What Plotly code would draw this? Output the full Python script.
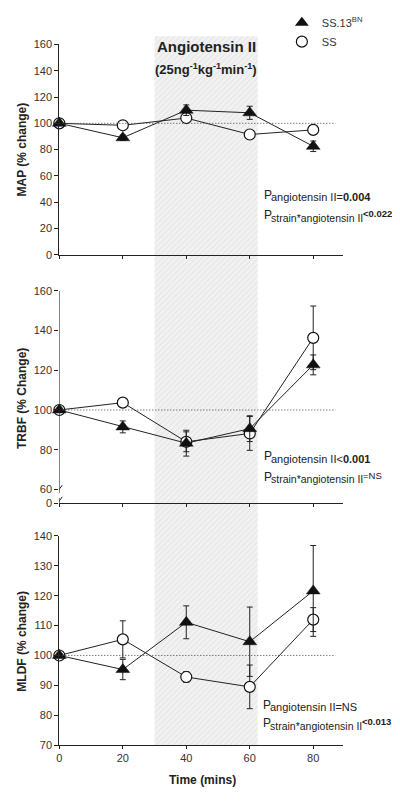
import plotly.graph_objects as go

# ---------------- data ----------------
time = [0, 20, 40, 60, 80]

map_bn = [100, 89, 110, 108, 82.5]
map_bn_err = [0, 2, 4, 5, 4]
map_ss = [100, 98.5, 104, 91.5, 95]
map_ss_err = [0, 1, 3, 2, 1.5]

trbf_bn = [100, 91.5, 83.3, 90.6, 122.7]
trbf_bn_err = [0, 3, 6.5, 6.5, 5]
trbf_ss = [100, 103.7, 84, 88.2, 136.3]
trbf_ss_err = [0, 1, 5, 8.5, 16]

mldf_bn = [100, 95.3, 111.1, 104.6, 121.6]
mldf_bn_err = [0, 3.4, 5.5, 11.6, 15.2]
mldf_ss = [100, 105.4, 92.8, 89.5, 112]
mldf_ss_err = [0, 6.2, 1.8, 7.3, 4]

infusion_start = 30
infusion_end = 62.5
baseline = 100

map_ticks = [0, 20, 40, 60, 80, 100, 120, 140, 160]
trbf_ticks = [53.1, 60, 80, 100, 120, 140, 160]
trbf_ticktext = ["0", "60", "80", "100", "120", "140", "160"]
mldf_ticks = [70, 80, 90, 100, 110, 120, 130, 140]
x_ticks = [0, 20, 40, 60, 80]

# ---------------- geometry helpers (window pixels -> paper) ----------------
# the page body has an 8px margin, so the figure is offset by 8px;
# keep the figure small enough that the page does not overflow the window
OFF = 8
W, H = 400 - 2 * OFF, 806 - 2 * OFF
def px(x):
    return (x - OFF) / W
def py(y):
    return 1 - (y - OFF) / H

FONT = "Liberation Sans, Arial, sans-serif"
AX = "#222222"
TXT = "#333333"

x_dom = [px(56.7), px(343)]
x_range = [0, 89.5]

fig = go.Figure()

# shading (full-height overlay axis drawn beneath the panels)
fig.add_trace(go.Bar(
    x=[(infusion_start + infusion_end) / 2], y=[py(28.5) - py(750.3)],
    base=[py(750.3)], width=[infusion_end - infusion_start],
    marker=dict(color="#f2f2f2", line=dict(width=0),
                pattern=dict(shape="/", fgcolor="#d2d2d2", bgcolor="#f2f2f2",
                             size=4, solidity=0.25)),
    xaxis="x", yaxis="y", showlegend=False, hoverinfo="skip"))

def add_pair(xa, ya, bn, bn_err, ss, ss_err):
    fig.add_trace(go.Scatter(
        x=time, y=ss, mode="lines+markers", xaxis=xa, yaxis=ya,
        line=dict(color="#222222", width=1),
        marker=dict(symbol="circle", size=11, color="white",
                    line=dict(color="#111111", width=1.2)),
        error_y=dict(type="data", array=ss_err, color="#222222",
                     thickness=1, width=3),
        cliponaxis=False, showlegend=False))
    fig.add_trace(go.Scatter(
        x=time, y=bn, mode="lines+markers", xaxis=xa, yaxis=ya,
        line=dict(color="#222222", width=1),
        marker=dict(symbol="triangle-up", size=12, color="#111111",
                    line=dict(color="#111111", width=0.5)),
        error_y=dict(type="data", array=bn_err, color="#222222",
                     thickness=1, width=3),
        cliponaxis=False, showlegend=False))

add_pair("x2", "y2", map_bn, map_bn_err, map_ss, map_ss_err)
add_pair("x3", "y3", trbf_bn, trbf_bn_err, trbf_ss, trbf_ss_err)
add_pair("x4", "y4", mldf_bn, mldf_bn_err, mldf_ss, mldf_ss_err)

# legend-only traces
fig.add_trace(go.Scatter(x=[None], y=[None], mode="markers", xaxis="x2", yaxis="y2",
                         name="SS.13<sup>BN</sup>",
                         marker=dict(symbol="triangle-up", size=12, color="#111111")))
fig.add_trace(go.Scatter(x=[None], y=[None], mode="markers", xaxis="x2", yaxis="y2",
                         name="SS",
                         marker=dict(symbol="circle", size=11, color="white",
                                     line=dict(color="#111111", width=1.2))))

tickfont = dict(family=FONT, size=11, color=TXT)

def xaxis(domain_anchor, labels):
    return dict(domain=x_dom, range=x_range, anchor=domain_anchor,
                showline=True, linecolor=AX, linewidth=1,
                ticks="outside", ticklen=3, tickcolor=AX, tickvals=x_ticks,
                showticklabels=labels, tickfont=tickfont,
                showgrid=False, zeroline=False, fixedrange=True)

def yaxis(domain, rng, tickvals, anchor, showline=True, ticktext=None):
    d = dict(domain=domain, range=rng, anchor=anchor,
             showline=showline, linecolor=AX, linewidth=1,
             ticks="outside", ticklen=4, tickcolor=AX, tickvals=tickvals,
             tickfont=tickfont, showgrid=False, zeroline=False, fixedrange=True)
    if ticktext is not None:
        d["ticktext"] = ticktext
    return d

layout = dict(
    width=W, height=H,
    margin=dict(l=0, r=0, t=0, b=0),
    paper_bgcolor="white", plot_bgcolor="rgba(0,0,0,0)",
    font=dict(family=FONT, color=TXT),
    barmode="overlay",
    xaxis=dict(domain=x_dom, range=x_range, visible=False, fixedrange=True),
    yaxis=dict(domain=[0, 1], range=[0, 1], visible=False, fixedrange=True),
    xaxis2=xaxis("y2", False),
    yaxis2=yaxis([py(251), py(37)], [0, 160], map_ticks, "x2"),
    xaxis3=xaxis("y3", False),
    yaxis3=yaxis([py(504), py(287.7)], [53.1, 160], trbf_ticks, "x3",
                 showline=False, ticktext=trbf_ticktext),
    xaxis4=xaxis("y4", True),
    yaxis4=yaxis([py(750.3), py(537.3)], [70, 140], mldf_ticks, "x4"),
    showlegend=True,
    legend=dict(x=px(281), y=py(0), xanchor="left", yanchor="top",
                font=dict(family=FONT, size=11, color=TXT),
                bgcolor="rgba(0,0,0,0)", tracegroupgap=0, itemwidth=30),
)
fig.update_layout(**layout)

# dotted baseline reference lines
for xa, ya in [("x2", "y2"), ("x3", "y3"), ("x4", "y4")]:
    fig.add_shape(type="line", xref=xa, yref=ya, x0=0, x1=87, y0=baseline, y1=baseline,
                  line=dict(color="#444444", width=1, dash="1px,2px"))

# broken y axis of TRBF panel
fig.add_shape(type="line", xref="x3", yref="y3", x0=0, x1=0, y0=58.3, y1=160,
              line=dict(color=AX, width=1))
fig.add_shape(type="line", xref="x3", yref="y3", x0=0, x1=0, y0=53.1, y1=55.8,
              line=dict(color=AX, width=1))
for yv in [60.2, 54.3]:
    fig.add_shape(type="line", xref="x3", yref="y3", xsizemode="pixel", ysizemode="pixel",
                  xanchor=0, yanchor=yv, x0=-3, x1=3, y0=-4, y1=4,
                  line=dict(color=AX, width=1))

ann = []
def text(x, y, s, size=11, bold=False, xanchor="left", angle=0):
    ann.append(dict(x=px(x), y=py(y), xref="paper", yref="paper", showarrow=False,
                    xanchor=xanchor, yanchor="middle", textangle=angle,
                    text=("<b>%s</b>" % s) if bold else s,
                    font=dict(family=FONT, size=size, color="#222222")))

# title over infusion period
text(205, 39, "Angiotensin II", size=15, bold=True, xanchor="center")
text(205, 62, "(25ng<sup>-1</sup>kg<sup>-1</sup>min<sup>-1</sup>)", size=13, bold=True, xanchor="center")

# y axis titles
text(19, 144, "MAP (% change)", size=12, bold=True, xanchor="center", angle=-90)
text(19, 397, "TRBF (% Change)", size=12, bold=True, xanchor="center", angle=-90)
text(19, 644, "MLDF (% change)", size=12, bold=True, xanchor="center", angle=-90)
# x axis title
text(201, 786, "Time (mins)", size=12, bold=True, xanchor="center")

# statistics
def pstat(x, y, sub, tail, tail_raised):
    text(x, y, "P", size=12)
    if tail_raised:
        text(x + 7, y + 2.5, sub, size=10.5)
        text(x + 7 + 93, y - 1.5, tail, size=9.5)
    else:
        text(x + 7, y + 2.5, sub + tail, size=11)

pstat(261, 190, "angiotensin II", "=<b>0.004</b>", False)
pstat(261, 211, "strain*angiotensin II", "<b>&lt;0.022</b>", True)
pstat(261, 456, "angiotensin II", "&lt;<b>0.001</b>", False)
pstat(261, 477, "strain*angiotensin II", "=NS", True)
pstat(260, 709, "angiotensin II", "=NS", False)
pstat(260, 728, "strain*angiotensin II", "<b>&lt;0.013</b>", True)

fig.update_layout(annotations=ann)

fig.write_html("out.html")
